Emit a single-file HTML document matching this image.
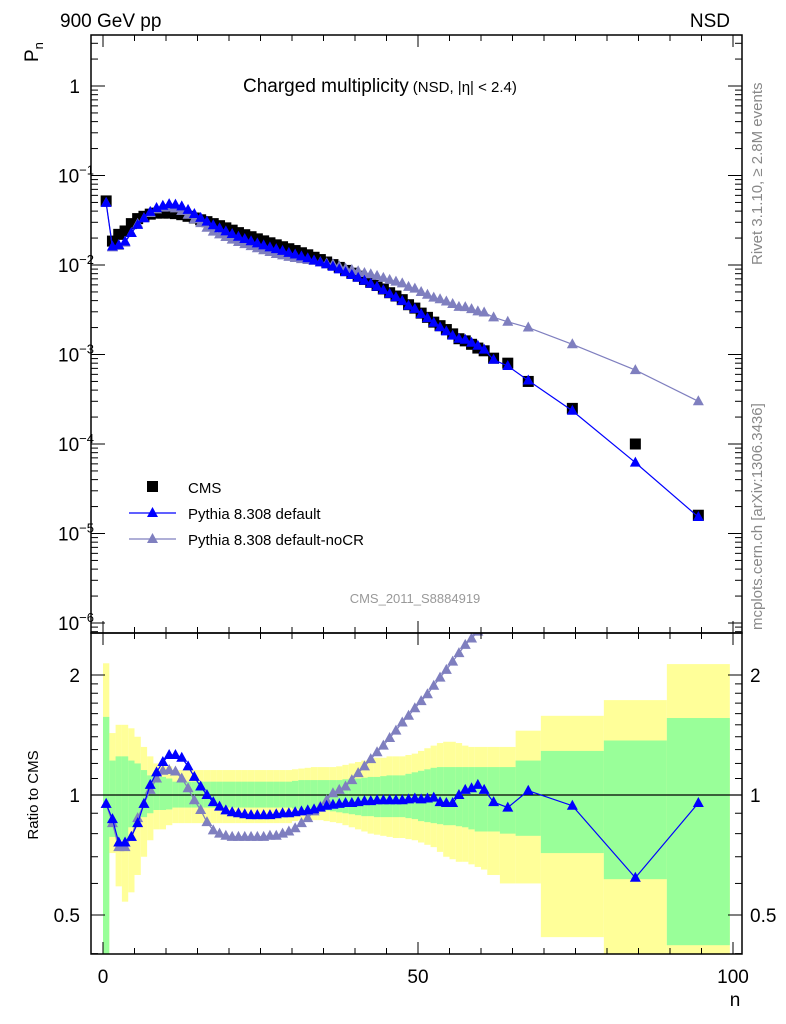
<!DOCTYPE html>
<html><head><meta charset="utf-8"><style>
html,body{margin:0;padding:0;background:#fff}
svg{display:block;font-family:"Liberation Sans",sans-serif}
</style></head><body>
<svg id="c" width="786" height="1024" viewBox="0 0 786 1024" xmlns="http://www.w3.org/2000/svg">
<defs>
<clipPath id="clipTop"><rect x="91" y="35" width="651" height="598"/></clipPath>
<clipPath id="clipBot"><rect x="91" y="633" width="651" height="321"/></clipPath>
</defs>
<g id="bands" clip-path="url(#clipBot)"></g>
<g id="ratioMarks" clip-path="url(#clipBot)"></g>
<g id="topMarks" clip-path="url(#clipTop)"></g>
<g id="axes"></g>
<text x="60" y="27" font-size="19">900 GeV pp</text>
<text x="730" y="27" font-size="19" text-anchor="end">NSD</text>
<text transform="translate(38,62) rotate(-90)" font-size="19">P<tspan font-size="13" dy="5">n</tspan></text>
<text x="243" y="92" font-size="19">Charged multiplicity<tspan font-size="15" dx="4">(NSD, |η| &lt; 2.4)</tspan></text>
<text transform="translate(762,265) rotate(-90)" font-size="15" fill="#888">Rivet 3.1.10, ≥ 2.8M events</text>
<text transform="translate(762,630) rotate(-90)" font-size="15" fill="#888">mcplots.cern.ch [arXiv:1306.3436]</text>
<text x="415" y="603" font-size="13" fill="#999" text-anchor="middle">CMS_2011_S8884919</text>
<text transform="translate(38,795) rotate(-90)" font-size="15" text-anchor="middle">Ratio to CMS</text>
<text x="735" y="1006" font-size="19" text-anchor="middle">n</text>
<g>
<rect x="147" y="481" width="11" height="11" fill="#000"/>
<text x="188" y="493" font-size="15">CMS</text>
<line x1="129" y1="513" x2="176" y2="513" stroke="#0000ff" stroke-width="1.2"/>
<polygon points="152.5,507 158,517 147,517" fill="#0000ff"/>
<text x="188" y="519" font-size="15">Pythia 8.308 default</text>
<line x1="129" y1="539" x2="176" y2="539" stroke="#7f7fbf" stroke-width="1.2"/>
<polygon points="152.5,533 158,543 147,543" fill="#7f7fbf"/>
<text x="188" y="545" font-size="15">Pythia 8.308 default-noCR</text>
</g>
</svg>
<script>
// bin edges (n)
const binLo = [0,1,2,3,4,5,6,7,8,9,10,11,12,13,14,15,16,17,18,19,20,21,22,23,24,25,26,27,28,29,30,31,32,33,34,35,36,37,38,39,40,41,42,43,44,45,46,47,48,49,50,51,52,53,54,55,56,57,58,59,60,61,63,65.5,69.5,79.5,89.5];
const binHi = [1,2,3,4,5,6,7,8,9,10,11,12,13,14,15,16,17,18,19,20,21,22,23,24,25,26,27,28,29,30,31,32,33,34,35,36,37,38,39,40,41,42,43,44,45,46,47,48,49,50,51,52,53,54,55,56,57,58,59,60,61,63,65.5,69.5,79.5,89.5,99.5];
// CMS P_n
const cmsP = [0.052,0.0185,0.022,0.024,0.029,0.033,0.035,0.037,0.038,0.038,0.038,0.0375,0.0365,0.035,0.0335,0.032,0.0305,0.029,0.0275,0.026,0.0245,0.023,0.0218,0.0207,0.0196,0.0186,0.0177,0.0168,0.016,0.0152,0.0145,0.0137,0.013,0.0122,0.0115,0.0108,0.0101,0.0094,0.0087,0.0081,0.0075,0.0069,0.0064,0.0059,0.0054,0.0049,0.0045,0.0041,0.0036,0.0033,0.0029,0.0026,0.0023,0.0021,0.0019,0.0017,0.0015,0.00142,0.0013,0.00118,0.0011,0.00091,0.0008,0.0005,0.00025,0.0001,0.000016];
// ratio Pythia default / CMS
const ratioDef = [0.95,0.87,0.76,0.76,0.785,0.85,0.95,1.06,1.14,1.21,1.26,1.26,1.24,1.18,1.11,1.05,1.0,0.96,0.935,0.915,0.905,0.9,0.895,0.89,0.89,0.89,0.89,0.895,0.9,0.9,0.905,0.91,0.915,0.92,0.93,0.94,0.945,0.95,0.955,0.955,0.96,0.965,0.965,0.97,0.97,0.97,0.97,0.97,0.975,0.98,0.975,0.98,0.985,0.96,0.955,0.955,1.0,1.03,1.04,1.06,1.03,0.96,0.93,1.025,0.94,0.62,0.955];
// ratio Pythia noCR / CMS
const ratioNoCR = [0.95,0.85,0.74,0.74,0.785,0.875,0.95,1.03,1.10,1.15,1.155,1.145,1.10,1.04,0.97,0.917,0.855,0.815,0.80,0.79,0.785,0.785,0.785,0.785,0.785,0.785,0.79,0.79,0.80,0.81,0.825,0.85,0.875,0.91,0.935,0.97,1.01,1.03,1.05,1.09,1.135,1.18,1.23,1.28,1.33,1.39,1.45,1.52,1.58,1.65,1.72,1.79,1.88,1.97,2.06,2.16,2.27,2.38,2.47,2.57,2.68,2.86,2.9,4.0,5.2,6.7,18.75];
// band ratios (yellow outer, green inner)
const yelHi = [2.14,1.43,1.50,1.50,1.47,1.40,1.32,1.25,1.20,1.20,1.18,1.155,1.155,1.155,1.155,1.155,1.155,1.155,1.155,1.155,1.155,1.155,1.155,1.155,1.155,1.155,1.155,1.155,1.155,1.155,1.16,1.165,1.17,1.175,1.175,1.175,1.175,1.18,1.19,1.20,1.21,1.22,1.23,1.24,1.24,1.25,1.25,1.25,1.26,1.27,1.29,1.31,1.33,1.35,1.36,1.36,1.35,1.33,1.32,1.32,1.32,1.32,1.32,1.45,1.58,1.73,2.13];
const yelLo = [0.3,0.715,0.59,0.54,0.57,0.63,0.70,0.77,0.82,0.82,0.84,0.85,0.85,0.85,0.85,0.85,0.85,0.85,0.85,0.85,0.85,0.85,0.85,0.85,0.85,0.85,0.85,0.85,0.85,0.85,0.86,0.865,0.865,0.865,0.865,0.86,0.855,0.85,0.84,0.83,0.82,0.81,0.80,0.795,0.79,0.785,0.78,0.78,0.775,0.77,0.76,0.75,0.74,0.72,0.70,0.69,0.68,0.68,0.67,0.66,0.65,0.63,0.60,0.60,0.44,0.3,0.3];
const grnHi = [1.57,1.22,1.25,1.25,1.22,1.20,1.155,1.12,1.11,1.11,1.10,1.08,1.08,1.08,1.08,1.08,1.08,1.08,1.08,1.08,1.08,1.08,1.08,1.08,1.08,1.08,1.08,1.08,1.08,1.08,1.085,1.09,1.09,1.09,1.09,1.09,1.09,1.09,1.095,1.10,1.10,1.105,1.11,1.11,1.115,1.12,1.12,1.12,1.13,1.14,1.15,1.16,1.17,1.175,1.175,1.175,1.175,1.175,1.175,1.175,1.175,1.175,1.175,1.22,1.29,1.37,1.56];
const grnLo = [0.3,0.785,0.77,0.77,0.83,0.87,0.88,0.90,0.917,0.917,0.92,0.93,0.93,0.93,0.93,0.93,0.93,0.93,0.93,0.93,0.93,0.93,0.93,0.93,0.93,0.93,0.93,0.93,0.93,0.93,0.925,0.92,0.92,0.92,0.92,0.915,0.91,0.905,0.90,0.895,0.89,0.885,0.885,0.88,0.88,0.88,0.88,0.88,0.875,0.87,0.86,0.855,0.85,0.845,0.84,0.84,0.835,0.83,0.82,0.81,0.81,0.81,0.80,0.79,0.715,0.615,0.42];
const xTicks = ["0","50","100"];
const ratioTicks = ["0.5","1","2"];

const NS='http://www.w3.org/2000/svg';
const X0=91,X1=742,YT=35,YM=633,YB=954;
const xs = n => 103 + 6.3*n;
const ys = p => 86 - 89.5*Math.log10(p);
const yr = r => 795 - 120*Math.log2(r);
function mk(tag, attrs, parent){const e=document.createElementNS(NS,tag);for(const k in attrs)e.setAttribute(k,attrs[k]);parent.appendChild(e);return e;}
const bands=document.getElementById('bands'), rm=document.getElementById('ratioMarks'), tm=document.getElementById('topMarks'), ax=document.getElementById('axes');
const centers = binLo.map((l,i)=>(l+binHi[i])/2);

binLo.forEach((l,i)=>{
  const x=xs(l), w=xs(binHi[i])-xs(l);
  const r1=mk('rect',{x:x,y:yr(yelHi[i]),width:w,height:yr(yelLo[i])-yr(yelHi[i]),fill:'#ffff99'},bands);
  
  
});
binLo.forEach((l,i)=>{
  const x=xs(l), w=xs(binHi[i])-xs(l);
  const r2=mk('rect',{x:x,y:yr(grnHi[i]),width:w,height:yr(grnLo[i])-yr(grnHi[i]),fill:'#99ff99'},bands);
  
  
});
const ul=mk('line',{x1:X0,x2:X1,y1:yr(1),y2:yr(1),stroke:'#000','stroke-width':1.2},rm);



function tri(g,x,y,col,name){
  const t=mk('polygon',{points:`${x},${y-6} ${x+5.5},${y+4} ${x-5.5},${y+4}`,fill:col},g);
  
  
}
function series(g,ptsX,ptsY,col,name){
  const pl=mk('polyline',{points:ptsX.map((x,i)=>x+','+ptsY[i]).join(' '),fill:'none',stroke:col,'stroke-width':1.2},g);
  
  
  ptsX.forEach((x,i)=>tri(g,x,ptsY[i],col,name+'-point'));
}
const cx=centers.map(xs);
series(rm,cx,ratioNoCR.map(yr),'#7f7fbf','ratio-nocr');
series(rm,cx,ratioDef.map(yr),'#0000ff','ratio-default');
cmsP.forEach((p,i)=>{
  const s=mk('rect',{x:cx[i]-5.5,y:ys(p)-5.5,width:11,height:11,fill:'#000'},tm);
  
  
});
series(tm,cx,cmsP.map((p,i)=>ys(p*ratioNoCR[i])),'#7f7fbf','pythia-nocr');
series(tm,cx,cmsP.map((p,i)=>ys(p*ratioDef[i])),'#0000ff','pythia-default');

function ln(x1,y1,x2,y2,w){mk('line',{x1,y1,x2,y2,stroke:'#000','stroke-width':w||1},ax);}
const f1=mk('rect',{x:X0,y:YT,width:X1-X0,height:YM-YT,fill:'none',stroke:'#000','stroke-width':1.5},ax);


const f2=mk('rect',{x:X0,y:YM,width:X1-X0,height:YB-YM,fill:'none',stroke:'#000','stroke-width':1.5},ax);


for(let n=0;n<=100;n+=5){
  const x=xs(n), L=(n%50===0)?12:6;
  ln(x,YB,x,YB-L);ln(x,YM,x,YM-L);ln(x,YM,x,YM+L);ln(x,YT,x,YT+L);
}
xTicks.forEach(t=>{
  const tx=mk('text',{x:xs(+t),y:983,'font-size':19,'text-anchor':'middle'},ax);
  tx.textContent=t;
  
  
});
for(let k=-7;k<=0;k++){
  for(let m=1;m<10;m++){
    const y=ys(m*Math.pow(10,k)); if(y<YT||y>YM) continue;
    const L=m===1?14:7;
    ln(X0,y,X0+L,y);ln(X1,y,X1-L,y);
  }
  if(k>=-6){
    const y=ys(Math.pow(10,k));
    const tx=mk('text',{x:k===0?80:58,y:y+7,'font-size':19,'text-anchor':k===0?'end':'start'},ax);
    
    
    if(k===0) tx.textContent='1';
    else {tx.textContent='10';const sp=document.createElementNS(NS,'tspan');sp.setAttribute('dy','-8');sp.setAttribute('font-size','13');sp.textContent='\u2212'+(-k);tx.appendChild(sp);}
  }
}
const minorR=[0.4,0.5,0.6,0.7,0.8,0.9,1,1.1,1.2,1.3,1.4,1.5,1.6,1.7,1.8,1.9,2];
minorR.forEach(r=>{const y=yr(r);const L=(r===0.5||r===1||r===2)?14:7;ln(X0,y,X0+L,y);ln(X1,y,X1-L,y);});
ratioTicks.forEach(t=>{
  const y=yr(+t);
  const a=mk('text',{x:80,y:y+7,'font-size':19,'text-anchor':'end'},ax);a.textContent=t;
  
  
  const b=mk('text',{x:750,y:y+7,'font-size':19},ax);b.textContent=t;
  
  
});
</script>
</body></html>
